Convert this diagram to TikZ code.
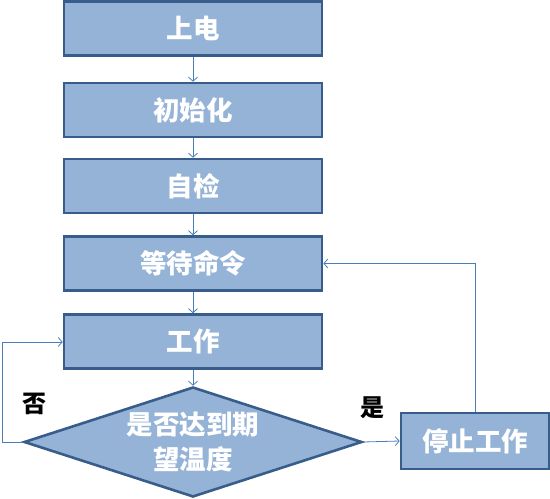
\documentclass[tikz,border=0pt]{standalone}
\usepackage{fontspec}
\newfontfamily\cjk{Noto Sans CJK SC}
\usetikzlibrary{shapes.geometric,arrows.meta}
\definecolor{boxfill}{HTML}{95B3D7}
\definecolor{boxline}{HTML}{385D8A}
\definecolor{conn}{HTML}{4A7EBB}
\begin{document}
\begin{tikzpicture}[x=1pt,y=-1pt,
  stepbox/.style={draw=boxline,fill=boxfill,line width=2.6pt,minimum width=258pt,minimum height=54pt,inner sep=0pt,font=\cjk\bfseries\fontsize{26.5}{30}\selectfont,text=white},
  decision/.style={diamond,draw=boxline,fill=boxfill,line width=2.6pt,minimum width=338pt,minimum height=110pt,aspect=3.07,inner sep=0pt,align=center,font=\cjk\bfseries\fontsize{26.5}{35}\selectfont,text=white},
  lbl/.style={font=\cjk\bfseries\fontsize{24}{28}\selectfont,text=black},
  conn/.style={draw=conn,line width=0.8pt,-{Straight Barb[length=4pt,width=9pt]}}]
\useasboundingbox (0,0) rectangle (550,499);
\node[stepbox] (b1) at (193,28.5) {上电};
\node[stepbox] (b2) at (193,110) {初始化};
\node[stepbox] (b3) at (193,186) {自检};
\node[stepbox] (b4) at (193,263.5) {等待命令};
\node[stepbox] (b5) at (193,341.5) {工作};
\node[decision] (d) at (193,442) {是否达到期\\望温度};
\node[stepbox,minimum width=148pt,minimum height=56pt] (s) at (475,441) {停止工作};
\coordinate (nl) at (2,442);
\coordinate (nt) at (2,342);
\coordinate (yt) at (475,263.5);
\node[lbl] (no) at (34,404) {否};
\node[lbl] (yes) at (372,408) {是};
\draw[conn] (b1) -- (b2);
\draw[conn] (b2) -- (b3);
\draw[conn] (b3) -- (b4);
\draw[conn] (b4) -- (b5);
\draw[conn] (b5) -- (d);
\draw[conn] (d.east) -- (s.west);
\draw[conn] (s.north) -- (yt) -- (b4.east);
\draw[conn] (d.west) -- (nl) -- (nt) -- (b5.west |- nt);
\end{tikzpicture}
\end{document}
